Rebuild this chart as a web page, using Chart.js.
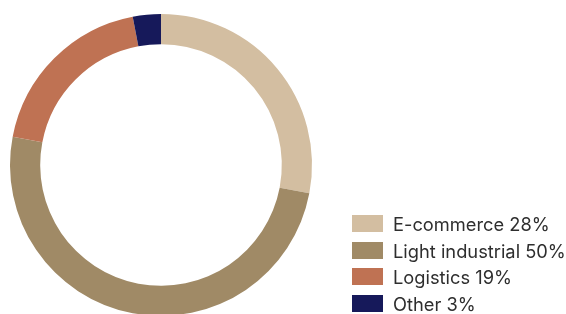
<!DOCTYPE html>
<html>
<head>
<meta charset="utf-8">
<script src="https://cdn.jsdelivr.net/npm/chart.js@4/dist/chart.umd.min.js"></script>
<style>
  html, body { margin: 0; padding: 0; width: 566px; height: 314px; overflow: hidden; background: #fff; }
  #wrap { position: absolute; left: 0; top: 0; width: 566px; height: 320px; }
  #legend { position: absolute; left: 352px; top: 215px; font-family: Inter, "Liberation Sans", sans-serif; font-size: 18.3px; color: #2e2e2e; }
  .row { position: relative; height: 26.7px; }
  .row .box { position: absolute; left: 0; top: 0; width: 31px; height: 17px; }
  .row .lbl { position: absolute; left: 41px; top: -2px; white-space: nowrap; line-height: 22px; }
</style>
</head>
<body>
<div id="wrap"><canvas id="c" width="566" height="320"></canvas></div>
<div id="legend"></div>
<script>
const categories = ["E-commerce", "Light industrial", "Logistics", "Other"];
const values = [28, 50, 19, 3];
const labels = ["E-commerce 28%", "Light industrial 50%", "Logistics 19%", "Other 3%"];
const colors = ["#D3BEA1", "#A08A66", "#BF7253", "#16195A"];

new Chart(document.getElementById('c'), {
  type: 'doughnut',
  data: {
    labels: categories,
    datasets: [{ data: values, backgroundColor: colors, borderWidth: 0, hoverOffset: 0 }]
  },
  options: {
    responsive: false,
    animation: false,
    cutout: '80%',
    layout: { padding: { left: 10, top: 14, right: 254, bottom: 4 } },
    plugins: { legend: { display: false }, tooltip: { enabled: false } }
  }
});

const lg = document.getElementById('legend');
labels.forEach((t, i) => {
  const r = document.createElement('div');
  r.className = 'row';
  const b = document.createElement('div');
  b.className = 'box';
  b.style.background = colors[i];
  const s = document.createElement('span');
  s.className = 'lbl';
  s.textContent = t;
  r.appendChild(b); r.appendChild(s);
  lg.appendChild(r);
});
</script>
</body>
</html>
